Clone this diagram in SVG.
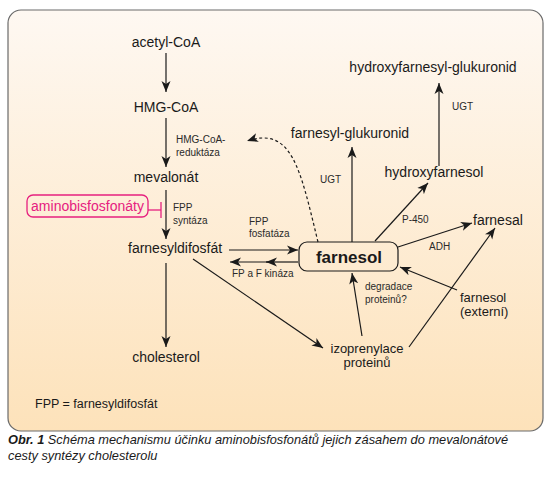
<svg xmlns="http://www.w3.org/2000/svg" width="555" height="480" viewBox="0 0 555 480">
<defs>
<linearGradient id="bg" x1="0" y1="0" x2="0" y2="1">
<stop offset="0" stop-color="#fef8f2"/>
<stop offset="1" stop-color="#fde2ba"/>
</linearGradient>
<marker id="ah" markerUnits="userSpaceOnUse" markerWidth="12" markerHeight="10" refX="11" refY="5" orient="auto">
<path d="M0,0.5 L11,5 L0,9.5 L3,5 Z" fill="#1a1a1a"/>
</marker>
</defs>
<style>
.t{font-family:"Liberation Sans",Arial,sans-serif;fill:#1a1a1a}
.m{font-size:14px}
.m2{font-size:13px}
.s{font-size:10px;fill:#2a2a2a}
.c{text-anchor:middle}
.ln{stroke:#1a1a1a;stroke-width:1.2;fill:none}
.cap{font-family:"Liberation Sans",Arial,sans-serif;font-size:12.8px;font-style:italic;fill:#1a1a1a}
</style>
<rect width="555" height="480" fill="#ffffff"/>
<rect x="8" y="10" width="535" height="421" rx="13" ry="13" fill="url(#bg)" stroke="#6a6a6a" stroke-width="1.2"/>

<g id="connectors">
<line class="ln" x1="166" y1="53" x2="166" y2="92" marker-end="url(#ah)"/>
<line class="ln" x1="166" y1="118" x2="166" y2="167" marker-end="url(#ah)"/>
<line class="ln" x1="166" y1="190" x2="166" y2="239" marker-end="url(#ah)"/>
<line class="ln" x1="166" y1="263" x2="166" y2="347" marker-end="url(#ah)"/>
<path class="ln" d="M318,242 C300,168 292,126 247,141" stroke-dasharray="3,2.5" marker-end="url(#ah)"/>
<line class="ln" x1="229" y1="250" x2="298" y2="250" marker-end="url(#ah)"/>
<line class="ln" x1="298" y1="262" x2="266" y2="262" marker-end="url(#ah)"/>
<line class="ln" x1="268" y1="262" x2="230" y2="262" marker-end="url(#ah)"/>
<line class="ln" x1="193" y1="259" x2="323" y2="348" marker-end="url(#ah)"/>
<line class="ln" x1="362" y1="336" x2="352" y2="273" marker-end="url(#ah)"/>
<line class="ln" x1="409" y1="347" x2="495" y2="228" marker-end="url(#ah)"/>
<line class="ln" x1="457" y1="290" x2="400" y2="267" marker-end="url(#ah)"/>
<line class="ln" x1="398" y1="247" x2="472" y2="223" marker-end="url(#ah)"/>
<line class="ln" x1="375" y1="241" x2="428" y2="183" marker-end="url(#ah)"/>
<line class="ln" x1="352" y1="242" x2="352" y2="147" marker-end="url(#ah)"/>
<line class="ln" x1="439" y1="166" x2="439" y2="83" marker-end="url(#ah)"/>
<line x1="148" y1="210" x2="161" y2="210" stroke="#e6207f" stroke-width="1.3"/>
<line x1="161" y1="202" x2="161" y2="218" stroke="#e6207f" stroke-width="1.3"/>
</g>

<g id="n-acetylcoa"><text class="t m c" x="166" y="47">acetyl-CoA</text></g>
<g id="n-hmgcoa"><text class="t m c" x="166" y="112">HMG-CoA</text></g>
<g id="l-reduktaza"><text class="t s" x="176" y="143">HMG-CoA-</text><text class="t s" x="176" y="156">reduktáza</text></g>
<g id="n-mevalonat"><text class="t m c" x="166" y="182">mevalonát</text></g>
<g id="n-aminobis">
<rect x="27" y="195" width="121" height="22" rx="6" ry="6" fill="none" stroke="#e6207f" stroke-width="1.3"/>
<text class="t m c" x="87.5" y="211" style="fill:#e6207f">aminobisfosfonáty</text>
</g>
<g id="l-fppsyntaza"><text class="t s" x="173" y="211">FPP</text><text class="t s" x="173" y="224">syntáza</text></g>
<g id="n-fpp"><text class="t m" x="128" y="253">farnesyldifosfát</text></g>
<g id="l-fosfataza"><text class="t s" x="249" y="225">FPP</text><text class="t s" x="249" y="237">fosfatáza</text></g>
<g id="l-kinaza"><text class="t s" x="232" y="277">FP a F kináza</text></g>
<g id="n-cholesterol"><text class="t m c" x="166" y="362">cholesterol</text></g>
<g id="n-farnesol">
<rect x="299" y="242" width="99" height="29" rx="8" ry="8" fill="none" stroke="#1a1a1a" stroke-width="1.2"/>
<text class="t c" x="349" y="263" style="font-size:17px;font-weight:bold">farnesol</text>
</g>
<g id="n-fglukuronid"><text class="t m c" x="350" y="138">farnesyl-glukuronid</text></g>
<g id="l-ugt1"><text class="t s" x="320" y="183">UGT</text></g>
<g id="n-hglukuronid"><text class="t m c" x="433" y="72">hydroxyfarnesyl-glukuronid</text></g>
<g id="l-ugt2"><text class="t s" x="452" y="110">UGT</text></g>
<g id="n-hydroxyfarnesol"><text class="t m c" x="434" y="177">hydroxyfarnesol</text></g>
<g id="l-p450"><text class="t s" x="402" y="223">P-450</text></g>
<g id="n-farnesal"><text class="t m" x="473" y="225">farnesal</text></g>
<g id="l-adh"><text class="t s" x="429" y="250">ADH</text></g>
<g id="l-degradace"><text class="t s" x="365" y="290">degradace</text><text class="t s" x="365" y="303">proteinů?</text></g>
<g id="n-fexterni"><text class="t m2" x="460" y="302">farnesol</text><text class="t m2" x="460" y="316">(externí)</text></g>
<g id="n-izoprenylace"><text class="t m2 c" x="367" y="353">izoprenylace</text><text class="t m2 c" x="367" y="367">proteinů</text></g>
<g id="legend"><text class="t" x="35" y="408" style="font-size:12.5px">FPP = farnesyldifosfát</text></g>
<g id="caption">
<text class="cap" x="8" y="444"><tspan font-weight="bold">Obr. 1</tspan>  Schéma mechanismu účinku aminobisfosfonátů jejich zásahem do mevalonátové</text>
<text class="cap" x="8" y="460">cesty syntézy cholesterolu</text>
</g>
</svg>
